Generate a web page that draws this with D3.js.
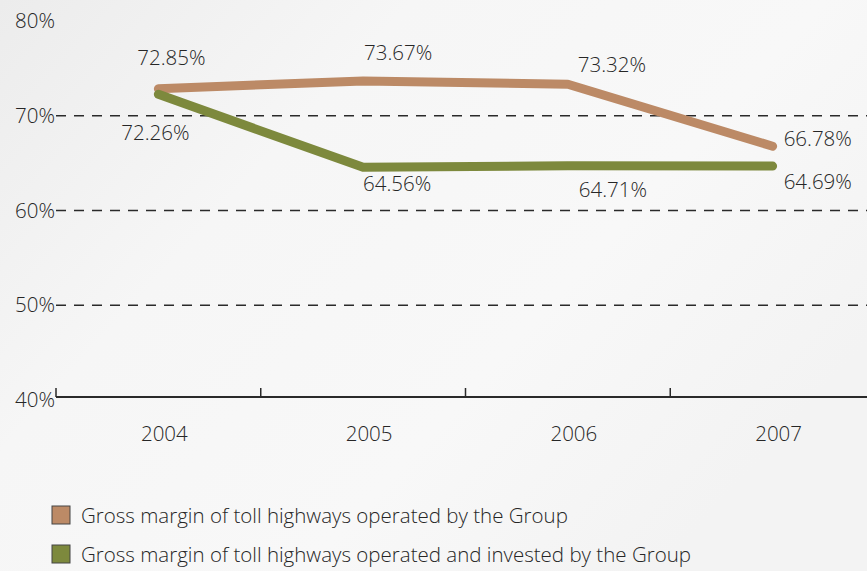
<!DOCTYPE html>
<html>
<head>
<meta charset="utf-8">
<script src="https://cdn.jsdelivr.net/npm/d3@7"></script>
<style>
  html, body { margin: 0; padding: 0; background: #f5f5f5; }
  svg { display: block; }
  text { font-family: "Open Sans", "Noto Sans", sans-serif; font-weight: 300; fill: #262626; }
</style>
</head>
<body>
<svg id="chart" width="867" height="571"></svg>
<script>
// Years on the category axis
const years = ["2004", "2005", "2006", "2007"];
// Gross margin (%) of toll highways operated by the Group
const operatedValues = [72.85, 73.67, 73.32, 66.78];
// Gross margin (%) of toll highways operated and invested by the Group
const investedValues = [72.26, 64.56, 64.71, 64.69];
// Percentage ticks on the value axis
const yTicks = [40, 50, 60, 70, 80];
// Legend entries
const seriesNames = [
  "Gross margin of toll highways operated by the Group",
  "Gross margin of toll highways operated and invested by the Group"
];

const colors = ["#bc8a66", "#7d893d"];
// Offsets of the value labels from their points [dx, dy, anchor]
const labelOffsets = [
  [[13, -24, "middle"], [35, -21, "middle"], [44, -12, "middle"], [11, 0, "start"]],
  [[-3, 46, "middle"], [34, 24, "middle"], [45, 31, "middle"], [11, 23, "start"]]
];

const FS = 20.5;
const svg = d3.select("#chart");
const W = 867, H = 571;

// soft grey backdrop
const defs = svg.append("defs");
const grad = defs.append("linearGradient").attr("id", "bg")
  .attr("x1", "0").attr("y1", "0").attr("x2", "1").attr("y2", "0.6");
grad.append("stop").attr("offset", "0").attr("stop-color", "#ececec");
grad.append("stop").attr("offset", "0.35").attr("stop-color", "#f6f6f6");
grad.append("stop").attr("offset", "0.7").attr("stop-color", "#f8f8f8");
grad.append("stop").attr("offset", "1").attr("stop-color", "#f3f3f3");
svg.append("rect").attr("width", W).attr("height", H).attr("fill", "url(#bg)");

const x = d3.scaleBand().domain(years).range([56, 875]);
const y = d3.scaleLinear().domain([40, 80]).range([400, 21]);
const xc = d => x(d) + x.bandwidth() / 2;

// dashed gridlines (70, 60, 50)
svg.append("g").selectAll("line")
  .data(yTicks.filter(t => t > 40 && t < 80))
  .join("line")
  .attr("x1", 56).attr("x2", W)
  .attr("y1", d => y(d)).attr("y2", d => y(d))
  .attr("stroke", "#2a2a2a").attr("stroke-width", 1.5)
  .attr("stroke-dasharray", "10,8");

// y tick labels
svg.append("g").selectAll("text")
  .data(yTicks)
  .join("text")
  .attr("x", 55).attr("y", d => y(d))
  .attr("dy", "0.35em")
  .attr("text-anchor", "end")
  .attr("font-size", FS)
  .text(d => d + "%");

// category axis with upward ticks at band edges
const axisY = 397;
svg.append("line")
  .attr("x1", 56).attr("x2", W).attr("y1", axisY).attr("y2", axisY)
  .attr("stroke", "#2a2a2a").attr("stroke-width", 2);
svg.append("g").selectAll("line")
  .data(years)
  .join("line")
  .attr("x1", d => x(d)).attr("x2", d => x(d))
  .attr("y1", axisY).attr("y2", axisY - 9)
  .attr("stroke", "#2a2a2a").attr("stroke-width", 1.5);
svg.append("g").selectAll("text")
  .data(years)
  .join("text")
  .attr("x", d => xc(d) + 6).attr("y", 441)
  .attr("text-anchor", "middle")
  .attr("font-size", FS)
  .text(d => d);

// the two series lines
const series = [operatedValues, investedValues];
const line = d3.line().x((d, i) => xc(years[i])).y(d => y(d));
svg.append("g").selectAll("path")
  .data(series)
  .join("path")
  .attr("d", d => line(d))
  .attr("fill", "none")
  .attr("stroke", (d, i) => colors[i])
  .attr("stroke-width", 9)
  .attr("stroke-linecap", "round")
  .attr("stroke-linejoin", "round");

// value labels
series.forEach((vals, s) => {
  svg.append("g").selectAll("text")
    .data(vals)
    .join("text")
    .attr("x", (d, i) => xc(years[i]) + labelOffsets[s][i][0])
    .attr("y", (d, i) => y(d) + labelOffsets[s][i][1])
    .attr("text-anchor", (d, i) => labelOffsets[s][i][2])
    .attr("font-size", FS)
    .text(d => d.toFixed(2) + "%");
});

// legend
const legend = svg.append("g").selectAll("g")
  .data(seriesNames)
  .join("g")
  .attr("transform", (d, i) => `translate(52, ${506 + i * 39})`);
legend.append("rect")
  .attr("width", 18).attr("height", 18)
  .attr("fill", (d, i) => colors[i])
  .attr("stroke", "#444").attr("stroke-width", 1);
legend.append("text")
  .attr("x", 29).attr("y", 17)
  .attr("font-size", FS)
  .text(d => d);
</script>
</body>
</html>
